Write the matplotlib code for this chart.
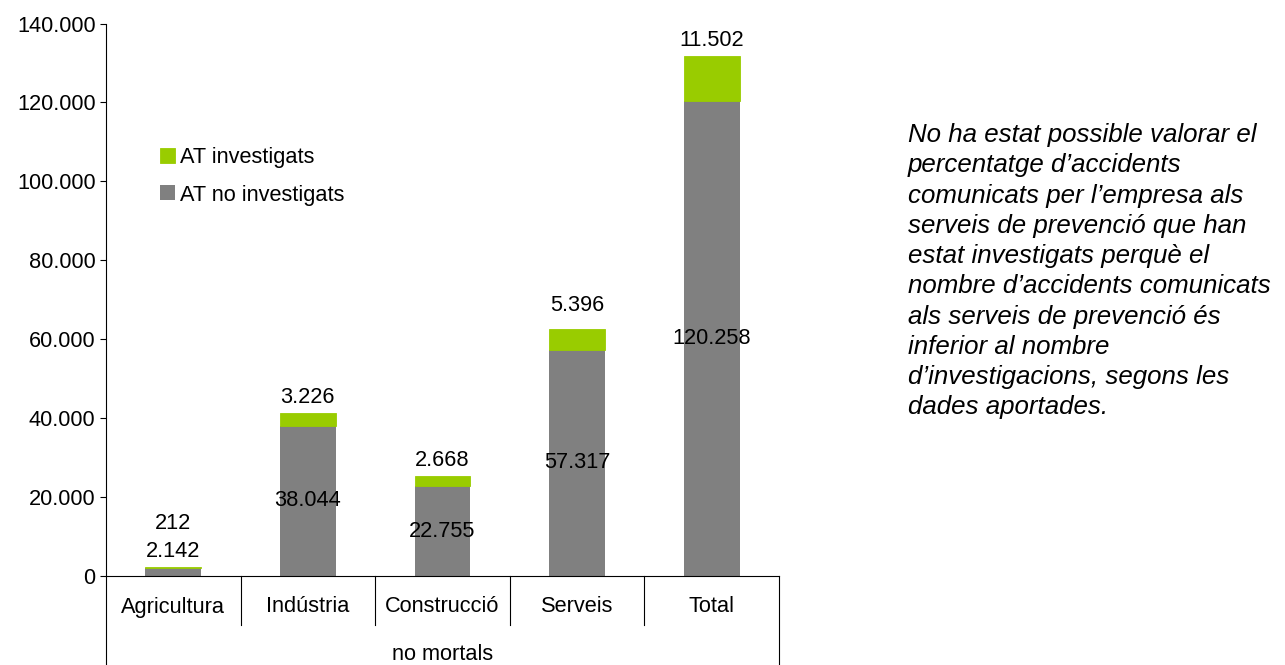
import matplotlib.pyplot as plt
import numpy as np

# data
categories = ['Agricultura', 'Indústria', 'Construcció', 'Serveis', 'Total']
no_investigats = [2142, 38044, 22755, 57317, 120258]
investigats = [212, 3226, 2668, 5396, 11502]
group_label = 'no mortals'
yticks = [0, 20000, 40000, 60000, 80000, 100000, 120000, 140000]

note = ("No ha estat possible valorar el\n"
        "percentatge d\u2019accidents\n"
        "comunicats per l\u2019empresa als\n"
        "serveis de prevenció que han\n"
        "estat investigats perquè el\n"
        "nombre d\u2019accidents comunicats\n"
        "als serveis de prevenció és\n"
        "inferior al nombre\n"
        "d\u2019investigacions, segons les\n"
        "dades aportades.")

GREEN = '#99CC00'
GREY = '#808080'
FS = 15.7

plt.rcParams['font.family'] = ['Liberation Sans', 'DejaVu Sans']


def fmt(v):
    return '{:,}'.format(int(v)).replace(',', '.')


fig = plt.figure(figsize=(12.85, 6.65), dpi=100)
ax = fig.add_axes([106 / 1285, 1 - 576 / 665, 673 / 1285, 552.5 / 665])

x = np.arange(len(categories))
b1 = ax.bar(x, no_investigats, width=0.416, color=GREY, label='AT no investigats')
b2 = ax.bar(x, investigats, width=0.416, bottom=no_investigats, color=GREEN,
            edgecolor=GREEN, linewidth=0.6, label='AT investigats')

ax.set_xlim(-0.5, len(categories) - 0.5)
ax.set_ylim(0, 140000)
ax.set_yticks(yticks)
ax.set_yticklabels([fmt(v) for v in yticks], fontsize=FS)
ax.tick_params(axis='y', direction='out', length=4.5, width=0.8, pad=3)
ax.set_xticks([])
for s in ['top', 'right']:
    ax.spines[s].set_visible(False)
ax.spines['left'].set_color('black')
ax.spines['bottom'].set_color('black')

# data labels (offsets in pixels -> points)
grey_dy = [20, 0, 0, 0, 0]
green_dy = [43, 16, 15, 23, 16]
for i in range(len(categories)):
    ax.annotate(fmt(no_investigats[i]), (x[i], no_investigats[i] / 2),
                xytext=(0, grey_dy[i] * 0.72), textcoords='offset points',
                ha='center', va='center', fontsize=FS)
    top = no_investigats[i] + investigats[i]
    ax.annotate(fmt(investigats[i]), (x[i], top),
                xytext=(0, green_dy[i] * 0.72), textcoords='offset points',
                ha='center', va='center', fontsize=FS)

# category axis with separators
tr = ax.get_xaxis_transform()
n = len(categories)
for k in range(1, n):
    ax.plot([k - 0.5, k - 0.5], [0, -49 / 552.5], color='black', lw=0.8,
            transform=tr, clip_on=False)
for k in [-0.5, n - 0.5]:
    ax.plot([k, k], [0, -95 / 552.5], color='black', lw=0.8,
            transform=tr, clip_on=False)
for i, c in enumerate(categories):
    ax.text(i, -31 / 552.5, c, transform=tr, ha='center', va='center', fontsize=FS)
ax.text((n - 1) / 2, -79 / 552.5, group_label, transform=tr, ha='center',
        va='center', fontsize=FS)

# legend
leg = ax.legend(handles=[b2, b1], loc='upper left',
                bbox_to_anchor=(45 / 673, 1 - 115 / 552.5), frameon=False,
                fontsize=FS, handlelength=0.68, handleheight=0.68,
                handletextpad=0.25, labelspacing=0.75, borderaxespad=0)

fig.text(908 / 1285, 1 - 123 / 665, note, ha='left', va='top', fontsize=18.6,
         style='italic', linespacing=1.33)

fig.savefig('out.png', dpi=100)
